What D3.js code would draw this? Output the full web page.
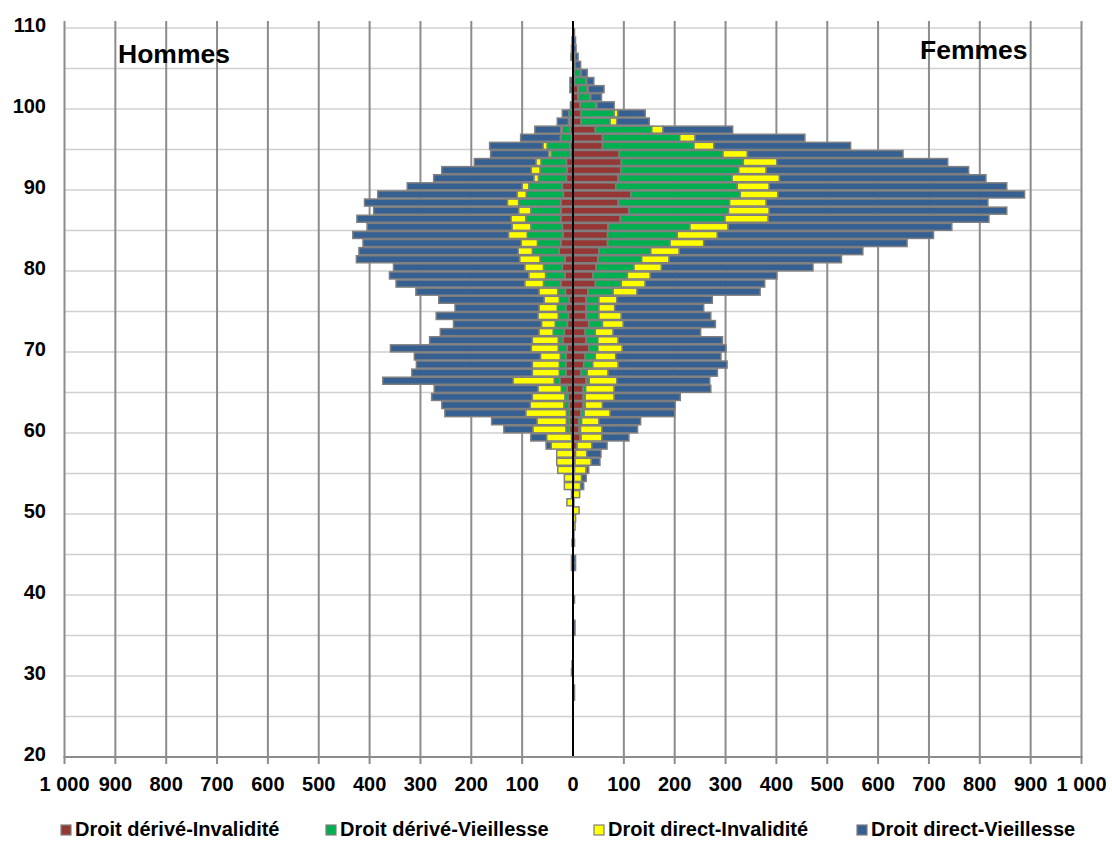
<!DOCTYPE html>
<html><head><meta charset="utf-8">
<script src="https://cdn.jsdelivr.net/npm/d3@7"></script>
<style>
body{margin:0;background:#fff}
text{font-family:"Liberation Sans",Arial,sans-serif;font-weight:bold;fill:#000}
</style>
</head><body>
<svg id="chart" width="1112" height="841"></svg>
<script>
// ---------- DATA ----------
const ages = [20,21,22,23,24,25,26,27,28,29,
  30,31,32,33,34,35,36,37,38,39,
  40,41,42,43,44,45,46,47,48,49,
  50,51,52,53,54,55,56,57,58,59,
  60,61,62,63,64,65,66,67,68,69,
  70,71,72,73,74,75,76,77,78,79,
  80,81,82,83,84,85,86,87,88,89,
  90,91,92,93,94,95,96,97,98,99,
  100,101,102,103,104,105,106,107,108,109,110];

const seriesNames = ["Droit dérivé-Invalidité","Droit dérivé-Vieillesse","Droit direct-Invalidité","Droit direct-Vieillesse"];
const seriesColors = ["#953735","#00b050","#ffff00","#366092"];

// Hommes (left side)
const hommesDeriveInvalidite = [0,0,0,0,0,0,0,0,0,0,
  0,0,0,0,0,0,0,0,0,0,
  0,0,0,0,0,0,0,0,0,0,
  0,0,0,0,0,0,0,0,2,3,
  7,7,7,8,10,12,26,14,14,14,
  12,20,17,11,9,14,8,15,24,16,
  21,16,27,24,20,21,24,24,24,19,
  21,13,12,13,5,6,3,6,0,0,
  0,0,0,0,0,0,0,0,0,0,0];
const hommesDeriveVieillesse = [0,0,0,0,0,0,0,0,0,0,
  0,0,0,0,0,0,0,0,0,0,
  0,0,0,0,0,0,0,0,0,0,
  0,0,0,0,0,0,0,0,0,0,
  7,6,6,10,6,11,11,13,13,11,
  17,9,22,24,20,17,19,15,34,38,
  37,49,53,46,70,62,69,59,83,73,
  66,55,53,50,38,45,20,15,6,8,
  0,0,0,1,0,0,0,0,0,0,0];
const hommesDirectInvalidite = [0,0,0,0,0,0,0,0,0,0,
  0,0,0,0,0,0,0,0,0,0,
  0,0,0,0,0,0,0,0,0,0,
  0,12,3,17,17,30,32,32,41,49,
  65,58,80,66,64,46,81,53,53,39,
  53,51,28,27,40,36,30,37,37,33,
  37,40,28,32,37,37,29,24,22,18,
  13,9,17,10,5,8,2,3,3,0,
  0,0,0,0,0,0,0,0,0,0,0];
const hommesDirectVieillesse = [0,0,0,0,0,0,0,0,0,0,
  3,2,0,0,0,0,0,0,0,0,
  0,0,0,3,3,0,2,0,0,0,
  0,0,0,0,0,0,0,0,10,31,
  57,89,159,174,198,204,256,237,228,248,
  277,202,194,173,200,165,207,242,253,274,
  258,321,313,311,306,285,303,285,281,274,
  226,197,176,121,114,105,78,51,22,13,
  5,2,6,5,0,0,4,3,2,0,0];

// Femmes (right side)
const femmesDeriveInvalidite = [0,0,0,0,0,0,0,0,0,0,
  0,0,0,0,0,0,0,0,0,0,
  0,0,0,0,0,0,0,0,0,0,
  0,0,0,1,2,3,4,5,7,14,
  12,12,16,20,20,20,26,16,21,24,
  31,26,24,31,26,26,26,29,44,39,
  45,49,51,68,68,69,93,110,89,114,
  84,89,94,95,91,58,58,44,16,16,
  14,10,10,3,2,0,0,0,0,0,0];
const femmesDeriveVieillesse = [0,0,0,0,0,0,0,0,0,0,
  0,0,0,0,0,0,0,0,0,0,
  0,0,0,0,0,0,0,0,0,0,
  0,0,0,0,0,0,0,0,1,2,
  3,5,6,4,4,5,6,12,18,20,
  18,23,20,27,25,25,25,50,51,68,
  75,86,102,123,137,161,206,196,219,215,
  239,224,232,240,204,180,152,111,57,65,
  31,23,18,22,13,4,4,0,0,0,0];
const femmesDirectInvalidite = [0,0,0,0,0,0,0,0,0,0,
  0,0,0,0,0,0,0,0,0,0,
  0,0,0,0,0,0,0,0,4,5,
  12,2,13,14,15,23,32,22,29,41,
  42,34,51,34,57,56,54,41,50,40,
  48,40,35,41,44,31,35,47,47,45,
  54,54,56,66,79,75,85,80,72,74,
  63,93,54,66,48,39,30,22,13,7,
  2,2,2,2,1,0,0,0,0,0,0];
const femmesDirectVieillesse = [0,0,0,0,0,0,0,3,3,0,
  0,0,0,0,0,4,4,0,0,3,
  0,0,0,5,5,0,3,2,0,0,
  0,0,0,6,9,5,17,28,30,53,
  70,82,127,143,130,190,183,215,214,207,
  204,205,172,181,176,175,188,242,235,249,
  298,339,361,400,425,440,434,467,436,485,
  467,406,398,336,306,269,216,137,64,54,
  34,21,31,14,12,11,6,6,5,3,0];

const yTickValues = [20,30,40,50,60,70,80,90,100,110];
const xTickValues = [-1000,-900,-800,-700,-600,-500,-400,-300,-200,-100,0,100,200,300,400,500,600,700,800,900,1000];
const sideTitles = ["Hommes","Femmes"];

// ---------- CHART ----------
const svg = d3.select("#chart");
const x = d3.scaleLinear().domain([-1000,1000]).range([64.5,1081.5]);
const y = d3.scaleLinear().domain([20,110]).range([757,28]);
const keys = ["a","b","c","d"];

const hommesRows = ages.map((a,i)=>({age:a,a:hommesDeriveInvalidite[i],b:hommesDeriveVieillesse[i],c:hommesDirectInvalidite[i],d:hommesDirectVieillesse[i]}));
const femmesRows = ages.map((a,i)=>({age:a,a:femmesDeriveInvalidite[i],b:femmesDeriveVieillesse[i],c:femmesDirectInvalidite[i],d:femmesDirectVieillesse[i]}));
const stack = d3.stack().keys(keys);

// grid
const gGrid = svg.append("g");
gGrid.selectAll("line.h").data(d3.range(20,111,5)).join("line")
  .attr("x1",x(-1000)).attr("x2",x(1000))
  .attr("y1",d=>y(d)).attr("y2",d=>y(d))
  .attr("stroke","#d0d0d0").attr("stroke-width",1.5);
gGrid.selectAll("line.v").data(xTickValues.filter(v=>v!==0)).join("line")
  .attr("x1",d=>x(d)).attr("x2",d=>x(d))
  .attr("y1",21).attr("y2",764)
  .attr("stroke","#8c8c8c").attr("stroke-width",2);

// bars
const barH = 7;
function drawSide(rows, sign){
  const series = stack(rows);
  const g = svg.append("g");
  series.forEach((s,k)=>{
    g.selectAll(null).data(s.filter(p=>p[1]-p[0]>0)).join("rect")
      .attr("x",p=> sign>0 ? x(p[0]) : x(-p[1]))
      .attr("width",p=> Math.abs(x(p[1])-x(p[0])))
      .attr("y",p=> y(p.data.age+0.45)-barH/2)
      .attr("height",barH)
      .attr("fill",seriesColors[k])
      .attr("stroke","#7f7f7f").attr("stroke-width",1.5);
  });
}
drawSide(hommesRows,-1);
drawSide(femmesRows,1);

// zero line
svg.append("line").attr("x1",x(0)).attr("x2",x(0)).attr("y1",21).attr("y2",757)
  .attr("stroke","#000").attr("stroke-width",2);

// bottom axis
svg.append("line").attr("x1",x(-1000)-1).attr("x2",x(1000)+1).attr("y1",757).attr("y2",757)
  .attr("stroke","#8c8c8c").attr("stroke-width",2);

// tick labels
const fmt = v => { const a=Math.abs(v); return a>=1000 ? d3.format(",")(a).replace(","," ") : String(a); };
svg.append("g").selectAll("text").data(xTickValues).join("text")
  .attr("x",d=>x(d)).attr("y",791).attr("text-anchor","middle")
  .attr("font-size",20).text(fmt);
svg.append("g").selectAll("text").data(yTickValues).join("text")
  .attr("x",46).attr("y",d=>y(d)+4).attr("text-anchor","end")
  .attr("font-size",20).text(d=>d);

// side titles
svg.append("text").attr("x",118).attr("y",63).attr("font-size",26.5).text(sideTitles[0]);
svg.append("text").attr("x",920).attr("y",59).attr("font-size",26.5).text(sideTitles[1]);

// legend
const legX = [61,326,594,857];
const lg = svg.append("g");
seriesNames.forEach((n,i)=>{
  lg.append("rect").attr("x",legX[i]).attr("y",825).attr("width",10).attr("height",10)
    .attr("fill",seriesColors[i]).attr("stroke","#7f7f7f").attr("stroke-width",1.2);
  lg.append("text").attr("x",legX[i]+14).attr("y",836).attr("font-size",20).text(n);
});
</script>
</body></html>
